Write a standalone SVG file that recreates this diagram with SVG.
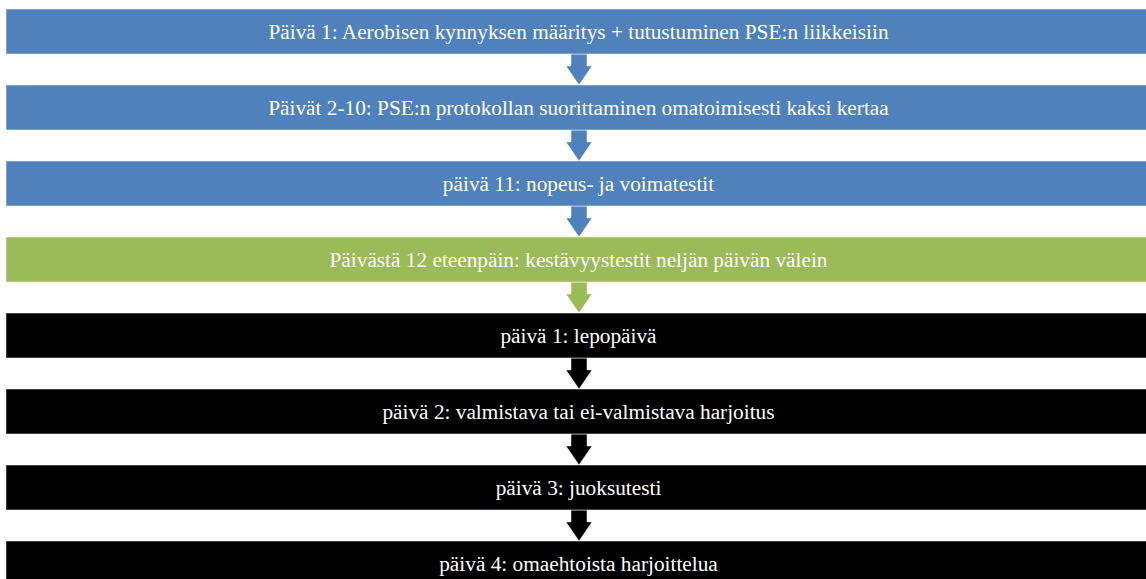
<svg xmlns="http://www.w3.org/2000/svg" width="1146" height="579" viewBox="0 0 1146 579">
<style>
.box{stroke:#ffffff;stroke-opacity:0.5;stroke-width:1}
.blue{fill:#4F81BD}
.green{fill:#9BBB59}
.black{fill:#000000}
.t{font-family:"Liberation Serif","Times New Roman",serif;font-size:21.3px;fill:#ffffff;text-anchor:middle}
.arr{stroke:#ffffff;stroke-opacity:0.6;stroke-width:0.8}
</style>
<rect width="1146" height="579" fill="#ffffff"/>
<g id="connectors">
<path class="arr blue" d="M571,54 H587 V66 H592 L579,85 L566,66 H571 Z"/>
<path class="arr blue" d="M571,130 H587 V142 H592 L579,161 L566,142 H571 Z"/>
<path class="arr blue" d="M571,206 H587 V218 H592 L579,237 L566,218 H571 Z"/>
<path class="arr green" d="M571,282 H587 V294 H592 L579,313 L566,294 H571 Z"/>
<path class="arr black" d="M571,358 H587 V370 H592 L579,389 L566,370 H571 Z"/>
<path class="arr black" d="M571,434 H587 V446 H592 L579,465 L566,446 H571 Z"/>
<path class="arr black" d="M571,510 H587 V522 H592 L579,541 L566,522 H571 Z"/>
</g>
<g id="n1"><rect class="box blue" x="6" y="9" width="1144" height="45"/><text class="t" x="578.5" y="39">Päivä 1: Aerobisen kynnyksen määritys + tutustuminen PSE:n liikkeisiin</text></g>
<g id="n2"><rect class="box blue" x="6" y="85" width="1144" height="45"/><text class="t" x="578.5" y="115">Päivät 2-10: PSE:n protokollan suorittaminen omatoimisesti kaksi kertaa</text></g>
<g id="n3"><rect class="box blue" x="6" y="161" width="1144" height="45"/><text class="t" x="578.5" y="191">päivä 11: nopeus- ja voimatestit</text></g>
<g id="n4"><rect class="box green" x="6" y="237" width="1144" height="45"/><text class="t" x="578.5" y="267">Päivästä 12 eteenpäin: kestävyystestit neljän päivän välein</text></g>
<g id="n5"><rect class="box black" x="6" y="313" width="1144" height="45"/><text class="t" x="578.5" y="343">päivä 1: lepopäivä</text></g>
<g id="n6"><rect class="box black" x="6" y="389" width="1144" height="45"/><text class="t" x="578.5" y="419">päivä 2: valmistava tai ei-valmistava harjoitus</text></g>
<g id="n7"><rect class="box black" x="6" y="465" width="1144" height="45"/><text class="t" x="578.5" y="495">päivä 3: juoksutesti</text></g>
<g id="n8"><rect class="box black" x="6" y="541" width="1144" height="45"/><text class="t" x="578.5" y="571">päivä 4: omaehtoista harjoittelua</text></g>
</svg>
